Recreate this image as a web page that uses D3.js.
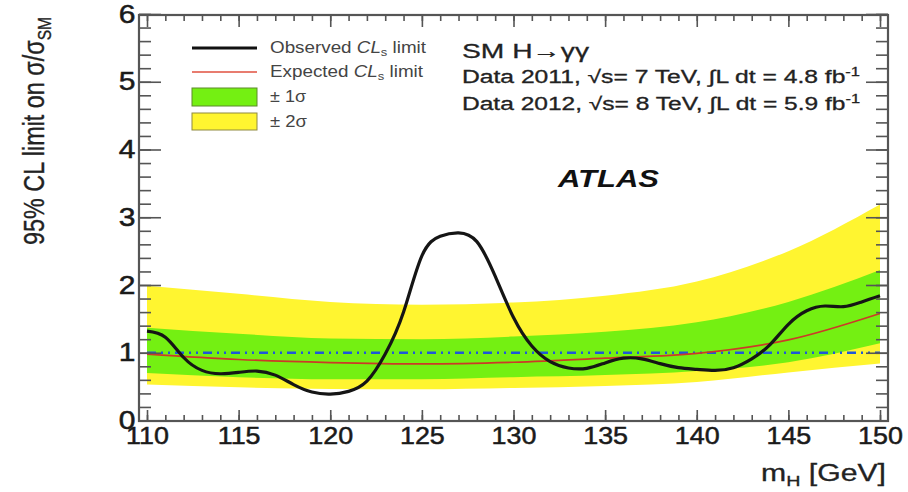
<!DOCTYPE html>
<html>
<head>
<meta charset="utf-8">
<script src="https://cdn.jsdelivr.net/npm/d3@7"></script>
<style>
body{margin:0;background:#fff;}
text{font-family:"Liberation Sans",Arial,Helvetica,sans-serif;}
</style>
</head>
<body>
<svg id="chart" width="908" height="492"></svg>
<script>
// expected bands, sampled every 5 GeV
var bandMass = [110,115,120,125,130,135,140,145,150];
var expected = [0.98,0.90,0.855,0.835,0.86,0.92,0.99,1.19,1.58];
var plus1 = [1.37,1.28,1.21,1.20,1.24,1.31,1.45,1.75,2.22];
var minus1 = [0.70,0.64,0.61,0.61,0.64,0.67,0.73,0.86,1.14];
var plus2 = [1.99,1.87,1.75,1.71,1.74,1.84,2.05,2.50,3.19];
var minus2 = [0.53,0.49,0.465,0.46,0.48,0.51,0.57,0.71,0.84];

// observed limit, every 1 GeV
var obsMass = [110,111,112,113,114,115,116,117,118,119,120,121,122,123,124,125,126,127,128,129,130,
               131,132,133,134,135,136,137,138,139,140,141,142,143,144,145,146,147,148,149,150];
var observed = [1.32,1.23,0.93,0.74,0.69,0.71,0.73,0.67,0.53,0.42,0.39,0.43,0.58,0.98,1.60,2.43,2.72,2.77,2.64,2.13,1.52,
                1.10,0.87,0.775,0.77,0.85,0.92,0.91,0.84,0.78,0.755,0.74,0.78,0.91,1.12,1.42,1.62,1.69,1.68,1.75,1.84];

var xTicks = [110,115,120,125,130,135,140,145,150];
var yTicks = [0,1,2,3,4,5,6];

var svg = d3.select('#chart');
var frame = {left:139, right:888, top:15, bottom:421};
var x = d3.scaleLinear().domain([110,150]).range([147,880]);
var y = d3.scaleLinear().domain([0,6]).range([420.5,14]);

var band = function(lo,hi){
    return d3.area()
        .x(function(d,i){return x(bandMass[i]);})
        .y0(function(d,i){return y(lo[i]);})
        .y1(function(d,i){return y(hi[i]);})
        .curve(d3.curveMonotoneX);
};
svg.append('path').datum(bandMass).attr('d',band(minus2,plus2)).attr('fill','#fff530');
svg.append('path').datum(bandMass).attr('d',band(minus1,plus1)).attr('fill','#74f012');

// SM reference at 1
svg.append('line')
    .attr('x1',x(110)).attr('x2',x(150)).attr('y1',y(1)).attr('y2',y(1))
    .attr('stroke','#1f58d8').attr('stroke-width',2.5)
    .attr('stroke-dasharray','9,5,2,5,2,5');

var expLine = d3.line()
    .x(function(d,i){return x(bandMass[i]);})
    .y(function(d){return y(d);})
    .curve(d3.curveMonotoneX);
svg.append('path').datum(expected).attr('d',expLine)
    .attr('fill','none').attr('stroke','#cc3a28').attr('stroke-width',1.7);

var obsLine = d3.line()
    .x(function(d,i){return x(obsMass[i]);})
    .y(function(d){return y(d);})
    .curve(d3.curveNatural);
svg.append('path').datum(observed).attr('d',obsLine)
    .attr('fill','none').attr('stroke','#151515').attr('stroke-width',3.2);

// axes, ticks pointing inside
function styleAxis(g){
    g.select('.domain').remove();
    g.selectAll('line').attr('stroke','#555').attr('stroke-width',1.6);
    g.selectAll('text').attr('fill','#1a1a1a').attr('stroke','#1a1a1a').attr('stroke-width',0.5)
        .style('font-size','24px');
}
var xMinor = d3.range(110,151,1);
var yMinor = d3.range(0,6.001,0.2);

svg.append('g').attr('transform','translate(0,'+frame.bottom+')')
    .call(d3.axisBottom(x).tickValues(xMinor).tickSize(-6).tickFormat('')).call(styleAxis);
var xAxis = svg.append('g').attr('transform','translate(0,'+frame.bottom+')')
    .call(d3.axisBottom(x).tickValues(xTicks).tickSize(-11).tickPadding(6).tickFormat(d3.format('d'))).call(styleAxis);
xAxis.selectAll('text').attr('transform','scale(1.12,1)');

svg.append('g').attr('transform','translate(0,'+frame.top+')')
    .call(d3.axisTop(x).tickValues(xMinor).tickSize(-6).tickFormat('')).call(styleAxis);
svg.append('g').attr('transform','translate(0,'+frame.top+')')
    .call(d3.axisTop(x).tickValues(xTicks).tickSize(-12).tickFormat('')).call(styleAxis);

svg.append('g').attr('transform','translate('+frame.left+',0)')
    .call(d3.axisLeft(y).tickValues(yMinor).tickSize(-12).tickFormat('')).call(styleAxis);
var yAxis = svg.append('g').attr('transform','translate('+frame.left+',0)')
    .call(d3.axisLeft(y).tickValues(yTicks).tickSize(-22).tickPadding(3).tickFormat(d3.format('d'))).call(styleAxis);
yAxis.selectAll('text').attr('transform','scale(1.2,1)').style('font-size','25px');

svg.append('g').attr('transform','translate('+frame.right+',0)')
    .call(d3.axisRight(y).tickValues(yMinor).tickSize(-12).tickFormat('')).call(styleAxis);
svg.append('g').attr('transform','translate('+frame.right+',0)')
    .call(d3.axisRight(y).tickValues(yTicks).tickSize(-22).tickFormat('')).call(styleAxis);

svg.append('rect')
    .attr('x',frame.left).attr('y',frame.top)
    .attr('width',frame.right-frame.left).attr('height',frame.bottom-frame.top)
    .attr('fill','none').attr('stroke','#555').attr('stroke-width',2.2);

// axis titles
svg.append('text')
    .attr('transform','translate(44,245) scale(1.2,1) rotate(-90)')
    .attr('textLength',228).attr('lengthAdjust','spacingAndGlyphs')
    .style('font-size','24px').attr('fill','#222').attr('stroke','#222').attr('stroke-width',0.3)
    .text('95% CL limit on σ/σ')
    .append('tspan').attr('dy',6).style('font-size','16px').text('SM');

var xt = svg.append('text').attr('x',761).attr('y',481)
    .attr('textLength',125).attr('lengthAdjust','spacingAndGlyphs')
    .style('font-size','23px').attr('fill','#222').attr('stroke','#222').attr('stroke-width',0.3);
xt.append('tspan').text('m');
xt.append('tspan').attr('dy',5).style('font-size','15px').text('H');
xt.append('tspan').attr('dy',-5).text(' [GeV]');

// legend
var lg = svg.append('g');
lg.append('line').attr('x1',192).attr('x2',257).attr('y1',48).attr('y2',48)
    .attr('stroke','#111').attr('stroke-width',3);
lg.append('line').attr('x1',192).attr('x2',257).attr('y1',72).attr('y2',72)
    .attr('stroke','#e0503f').attr('stroke-width',1.5);
lg.append('rect').attr('x',192).attr('y',88).attr('width',65).attr('height',18)
    .attr('fill','#74f012').attr('stroke','#5d8a2a').attr('stroke-width',1);
lg.append('rect').attr('x',192).attr('y',113).attr('width',65).attr('height',17)
    .attr('fill','#fff530').attr('stroke','#8f8a40').attr('stroke-width',1);

function clsLabel(txt,ly,w){
    var t = lg.append('text').attr('x',270).attr('y',ly)
        .attr('textLength',w).attr('lengthAdjust','spacingAndGlyphs')
        .style('font-size','16px').attr('fill','#444');
    t.append('tspan').text(txt+' ');
    t.append('tspan').style('font-style','italic').text('CL');
    t.append('tspan').attr('dy',3).style('font-size','11px').text('s');
    t.append('tspan').attr('dy',-3).text(' limit');
}
clsLabel('Observed',53,156);
clsLabel('Expected',77,153);
lg.append('text').attr('x',270).attr('y',102).attr('textLength',36).attr('lengthAdjust','spacingAndGlyphs')
    .style('font-size','16px').attr('fill','#444').text('± 1σ');
lg.append('text').attr('x',270).attr('y',127).attr('textLength',37).attr('lengthAdjust','spacingAndGlyphs')
    .style('font-size','16px').attr('fill','#444').text('± 2σ');

// right-hand labels
svg.append('text').attr('x',462).attr('y',58).attr('textLength',127).attr('lengthAdjust','spacingAndGlyphs')
    .style('font-size','21px').attr('fill','#222').attr('stroke','#222').attr('stroke-width',0.3).text('SM H→γγ');

function lumiLabel(year,energy,lumi,ly){
    var t = svg.append('text').attr('x',462).attr('y',ly)
        .attr('textLength',398).attr('lengthAdjust','spacingAndGlyphs')
        .style('font-size','18px').attr('fill','#222').attr('stroke','#222').attr('stroke-width',0.3);
    t.append('tspan').text('Data '+year+', √s= '+energy+' TeV, ∫L dt = '+lumi+' fb');
    t.append('tspan').attr('dy',-7).style('font-size','12px').text('-1');
}
lumiLabel('2011','7','4.8',83);
lumiLabel('2012','8','5.9',110);

svg.append('text').attr('x',558).attr('y',187).attr('textLength',101).attr('lengthAdjust','spacingAndGlyphs')
    .style('font-size','24px').style('font-weight','bold').style('font-style','italic')
    .attr('fill','#111').text('ATLAS');
</script>
</body>
</html>
